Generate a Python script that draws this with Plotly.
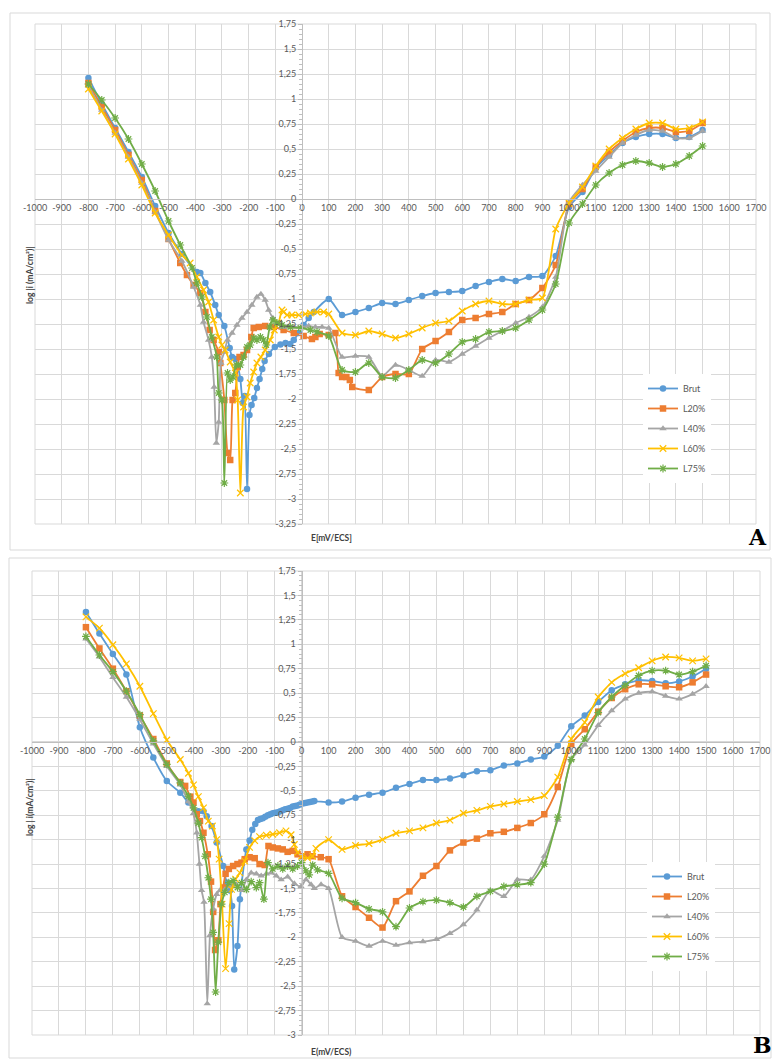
import plotly.graph_objects as go

W, H = 774, 1059

# ---------------- Panel A ----------------
A_brut_E = [-800, -750, -700, -650, -600, -550, -500, -450, -394, -381, -362, -344, -325, -312, -291, -271, -262,
            -250, -240, -231, -222, -215, -206, -197, -189, -179, -169, -159, -149, -140, -124, -102, -81, -62, -44,
            -31, -12, 6, 25, 44, 100, 150, 200, 250, 300, 350, 400, 450, 500, 550, 600, 650, 700, 750, 800, 850,
            900, 950, 1000, 1050, 1100, 1150, 1200, 1250, 1300, 1350, 1400, 1450, 1500]
A_brut_logi = [1.21, 0.95, 0.71, 0.47, 0.22, -0.07, -0.34, -0.55, -0.73, -0.74, -0.84, -0.93, -1.06, -1.16, -1.27,
               -1.49, -1.58, -1.60, -1.68, -1.80, -2.04, -1.97, -2.90, -2.16, -2.06, -1.99, -1.89, -1.80, -1.70, -1.62,
               -1.55, -1.48, -1.455, -1.44, -1.45, -1.41, -1.34, -1.26, -1.19, -1.13, -1.00, -1.16, -1.13, -1.09,
               -1.04, -1.05, -1.01, -0.97, -0.94, -0.93, -0.92, -0.87, -0.83, -0.80, -0.82, -0.78, -0.77, -0.57,
               -0.08, 0.07, 0.31, 0.44, 0.56, 0.62, 0.65, 0.65, 0.61, 0.62, 0.69]

A_l20_E = [-800, -750, -700, -650, -600, -550, -500, -456, -431, -406, -381, -362, -346, -331, -312, -306, -291, -279,
           -269, -260, -250, -241, -234, -219, -206, -190, -181, -162, -138, -106, -69, -31, 6, 37, 50, 66, 100, 125,
           137, 150, 166, 179, 188, 250, 300, 350, 400, 450, 500, 550, 600, 650, 700, 750, 800, 850, 900, 950, 1000,
           1050, 1100, 1150, 1200, 1250, 1300, 1350, 1400, 1450, 1500]
A_l20_logi = [1.16, 0.92, 0.69, 0.44, 0.19, -0.12, -0.40, -0.64, -0.76, -0.86, -0.94, -1.13, -1.31, -1.41, -1.53,
              -1.64, -2.01, -2.54, -2.61, -2.01, -1.94, -1.68, -1.58, -1.56, -1.51, -1.38, -1.29, -1.28, -1.27, -1.28,
              -1.31, -1.34, -1.37, -1.40, -1.38, -1.35, -1.36, -1.34, -1.74, -1.78, -1.78, -1.81, -1.88, -1.91, -1.78,
              -1.75, -1.75, -1.50, -1.42, -1.33, -1.21, -1.19, -1.15, -1.13, -1.05, -1.01, -0.89, -0.66, -0.05, 0.10,
              0.32, 0.47, 0.58, 0.67, 0.71, 0.71, 0.67, 0.68, 0.76]

A_l40_E = [-800, -750, -700, -650, -600, -550, -500, -450, -406, -381, -369, -350, -338, -329, -321, -312, -304, -291,
           -279, -262, -244, -225, -206, -188, -169, -154, -138, -125, -109, -94, -75, -56, -31, 0, 25, 50, 75, 100,
           150, 200, 250, 300, 350, 400, 450, 500, 550, 600, 650, 700, 750, 800, 850, 900, 950, 1000, 1050, 1100,
           1150, 1200, 1250, 1300, 1350, 1400, 1450, 1500]
A_l40_logi = [1.13, 0.89, 0.66, 0.42, 0.16, -0.13, -0.41, -0.62, -0.88, -1.06, -1.23, -1.41, -1.58, -1.88, -2.44,
              -2.23, -1.64, -1.53, -1.41, -1.34, -1.26, -1.19, -1.13, -1.06, -0.98, -0.95, -1.01, -1.11, -1.19, -1.24,
              -1.28, -1.28, -1.28, -1.28, -1.27, -1.28, -1.28, -1.29, -1.58, -1.57, -1.58, -1.77, -1.66, -1.71, -1.77,
              -1.61, -1.63, -1.55, -1.47, -1.39, -1.32, -1.24, -1.18, -1.08, -0.78, -0.03, 0.14, 0.28, 0.42, 0.56,
              0.64, 0.69, 0.68, 0.61, 0.61, 0.68]

A_l60_E = [-800, -750, -700, -650, -600, -550, -500, -450, -419, -394, -369, -350, -331, -312, -300, -288, -269, -250,
           -241, -231, -219, -206, -194, -181, -169, -154, -138, -119, -104, -88, -75, -69, -56, -38, -12, 12, 31, 56,
           81, 100, 150, 200, 250, 300, 350, 400, 450, 500, 550, 600, 650, 700, 750, 800, 850, 900, 950, 1000, 1050,
           1100, 1150, 1200, 1250, 1300, 1350, 1400, 1450, 1500]
A_l60_logi = [1.10, 0.88, 0.65, 0.40, 0.14, -0.14, -0.36, -0.56, -0.64, -0.78, -0.91, -1.03, -1.21, -1.38, -1.46,
              -1.51, -1.63, -1.74, -2.01, -2.94, -2.08, -1.98, -1.84, -1.73, -1.64, -1.58, -1.51, -1.41, -1.31, -1.24,
              -1.11, -1.13, -1.16, -1.16, -1.16, -1.15, -1.14, -1.13, -1.13, -1.15, -1.34, -1.36, -1.32, -1.35, -1.39,
              -1.35, -1.29, -1.24, -1.22, -1.12, -1.05, -1.02, -1.05, -1.05, -1.01, -0.99, -0.30, -0.04, 0.12, 0.33,
              0.50, 0.61, 0.70, 0.76, 0.76, 0.70, 0.71, 0.77]

A_l75_E = [-800, -750, -700, -650, -600, -550, -500, -456, -412, -394, -375, -356, -338, -319, -312, -300, -291, -279,
           -269, -259, -246, -231, -219, -206, -194, -181, -169, -156, -144, -134, -121, -109, -94, -75, -44, -6, 31,
           56, 100, 150, 200, 250, 300, 350, 400, 450, 500, 550, 600, 650, 700, 750, 800, 850, 900, 950, 1000, 1050,
           1100, 1150, 1200, 1250, 1300, 1350, 1400, 1450, 1500]
A_l75_logi = [1.15, 0.99, 0.81, 0.60, 0.35, 0.08, -0.22, -0.46, -0.69, -0.84, -0.98, -1.18, -1.38, -1.58, -1.94,
              -2.01, -2.84, -1.74, -1.81, -1.78, -1.66, -1.66, -1.58, -1.48, -1.46, -1.39, -1.41, -1.38, -1.41, -1.46,
              -1.28, -1.21, -1.24, -1.26, -1.28, -1.29, -1.31, -1.33, -1.37, -1.71, -1.73, -1.64, -1.78, -1.79, -1.71,
              -1.61, -1.64, -1.55, -1.43, -1.40, -1.33, -1.32, -1.29, -1.21, -1.11, -0.85, -0.24, -0.05, 0.14, 0.26,
              0.34, 0.38, 0.36, 0.32, 0.35, 0.43, 0.53]

# ---------------- Panel B ----------------
B_brut_E = [-800, -750, -700, -650, -600, -550, -500, -450, -420, -383, -364, -352, -334, -315, -291, -278, -266, -258,
            -250, -238, -229, -205, -193, -183, -172, -162, -153, -144, -135, -125, -116, -107, -98, -88, -79, -70,
            -61, -52, -43, -33, -24, -15, -6, 4, 13, 22, 31, 40, 47, 100, 150, 200, 250, 300, 350, 400, 450, 500, 550,
            600, 650, 700, 750, 800, 850, 900, 950, 1000, 1050, 1100, 1150, 1200, 1250, 1300, 1350, 1400, 1450, 1500]
B_brut_logi = [1.33, 1.11, 0.90, 0.69, 0.15, -0.16, -0.40, -0.52, -0.62, -0.71, -0.71, -0.76, -0.86, -1.03, -1.27,
               -1.44, -1.52, -1.68, -2.33, -2.09, -1.61, -1.10, -1.01, -0.90, -0.84, -0.80, -0.79, -0.78, -0.765,
               -0.75, -0.74, -0.73, -0.725, -0.72, -0.71, -0.70, -0.69, -0.685, -0.675, -0.66, -0.655, -0.65, -0.64,
               -0.63, -0.625, -0.62, -0.615, -0.61, -0.605, -0.62, -0.61, -0.57, -0.54, -0.52, -0.47, -0.43, -0.39,
               -0.39, -0.375, -0.34, -0.30, -0.29, -0.24, -0.22, -0.18, -0.15, -0.04, 0.16, 0.27, 0.41, 0.53, 0.59,
               0.63, 0.625, 0.60, 0.62, 0.67, 0.75]

B_l20_E = [-800, -750, -700, -650, -600, -550, -500, -450, -432, -413, -401, -389, -377, -364, -348, -336, -328, -321,
           -309, -301, -291, -282, -270, -254, -238, -223, -211, -193, -174, -156, -137, -123, -107, -88, -70, -52,
           -33, -15, 4, 22, 40, 71, 100, 150, 200, 250, 300, 350, 400, 450, 500, 550, 600, 650, 700, 750, 800, 850,
           900, 950, 1000, 1050, 1100, 1150, 1200, 1250, 1300, 1350, 1400, 1450, 1500]
B_l20_logi = [1.175, 0.957, 0.75, 0.52, 0.27, 0.03, -0.22, -0.41, -0.45, -0.56, -0.62, -0.74, -0.81, -0.93, -1.15,
              -1.43, -1.74, -2.13, -2.03, -1.66, -1.49, -1.35, -1.30, -1.27, -1.25, -1.235, -1.20, -1.18, -1.19,
              -1.25, -1.26, -1.065, -1.08, -1.09, -1.10, -1.125, -1.115, -1.15, -1.17, -1.15, -1.17, -1.18, -1.20,
              -1.58, -1.69, -1.80, -1.90, -1.63, -1.53, -1.37, -1.27, -1.11, -1.03, -0.99, -0.935, -0.92, -0.88,
              -0.83, -0.74, -0.46, -0.02, 0.13, 0.31, 0.45, 0.54, 0.59, 0.59, 0.57, 0.56, 0.61, 0.69]

B_l40_E = [-800, -750, -700, -650, -600, -550, -500, -450, -420, -401, -389, -379, -371, -362, -350, -340, -328, -315,
           -303, -285, -260, -242, -223, -205, -187, -168, -150, -131, -113, -94, -76, -52, -27, -2, 16, 35, 47, 72,
           100, 150, 200, 250, 300, 350, 400, 450, 500, 550, 600, 650, 700, 750, 800, 850, 900, 950, 1000, 1050,
           1100, 1150, 1200, 1250, 1300, 1350, 1400, 1450, 1500]
B_l40_logi = [1.056, 0.87, 0.66, 0.46, 0.23, -0.02, -0.25, -0.44, -0.61, -0.73, -0.93, -1.25, -1.52, -1.64, -2.68,
              -1.98, -1.71, -1.56, -1.52, -1.51, -1.47, -1.46, -1.52, -1.41, -1.34, -1.35, -1.37, -1.35, -1.34, -1.37,
              -1.41, -1.38, -1.45, -1.48, -1.41, -1.46, -1.50, -1.46, -1.50, -2.00, -2.04, -2.09, -2.04, -2.08,
              -2.055, -2.044, -2.02, -1.96, -1.87, -1.72, -1.52, -1.58, -1.41, -1.41, -1.17, -0.80, -0.18, -0.03,
              0.17, 0.32, 0.44, 0.50, 0.515, 0.47, 0.44, 0.49, 0.57]

B_l60_E = [-800, -750, -700, -650, -600, -550, -500, -450, -420, -401, -383, -364, -346, -331, -315, -306, -295, -282,
           -269, -260, -245, -229, -211, -193, -174, -156, -131, -107, -82, -58, -39, -27, -15, 0, 22, 41, 53, 100,
           150, 200, 250, 300, 350, 400, 450, 500, 550, 600, 650, 700, 750, 800, 850, 900, 950, 1000, 1050, 1100,
           1150, 1200, 1250, 1300, 1350, 1400, 1450, 1500]
B_l60_logi = [1.28, 1.165, 0.995, 0.80, 0.57, 0.29, 0.02, -0.18, -0.32, -0.44, -0.56, -0.675, -0.81, -0.86, -1.00,
              -1.20, -1.66, -2.32, -1.86, -1.51, -1.405, -1.34, -1.22, -1.08, -1.01, -0.97, -0.955, -0.945, -0.93,
              -0.91, -0.95, -1.05, -1.13, -1.17, -1.19, -1.17, -1.09, -1.00, -1.10, -1.06, -1.04, -1.00, -0.935,
              -0.91, -0.88, -0.83, -0.80, -0.73, -0.70, -0.66, -0.635, -0.61, -0.59, -0.55, -0.36, 0.03, 0.20, 0.46,
              0.61, 0.70, 0.76, 0.83, 0.87, 0.86, 0.83, 0.85]

B_l75_E = [-800, -750, -700, -650, -600, -550, -500, -450, -420, -401, -383, -371, -358, -346, -336, -328, -319, -309,
           -297, -285, -270, -254, -238, -223, -205, -187, -168, -156, -140, -125, -107, -88, -70, -52, -33, -15, 0,
           16, 28, 41, 59, 100, 150, 200, 250, 300, 350, 400, 450, 500, 550, 600, 650, 700, 750, 800, 850, 900, 950,
           1000, 1050, 1100, 1150, 1200, 1250, 1300, 1350, 1400, 1450, 1500]
B_l75_logi = [1.08, 0.89, 0.72, 0.52, 0.28, 0.01, -0.23, -0.42, -0.556, -0.675, -0.83, -0.98, -1.17, -1.39, -1.61,
              -1.95, -2.56, -2.05, -1.66, -1.54, -1.44, -1.42, -1.49, -1.44, -1.51, -1.43, -1.49, -1.44, -1.61,
              -1.235, -1.30, -1.27, -1.30, -1.27, -1.30, -1.27, -1.235, -1.32, -1.36, -1.26, -1.31, -1.345, -1.60,
              -1.645, -1.71, -1.74, -1.89, -1.70, -1.635, -1.62, -1.645, -1.69, -1.58, -1.53, -1.48, -1.46, -1.44,
              -1.25, -0.77, -0.18, 0.03, 0.30, 0.46, 0.58, 0.68, 0.73, 0.73, 0.69, 0.72, 0.78]

series_names = ["Brut", "L20%", "L40%", "L60%", "L75%"]
series_colors = ["#5B9BD5", "#ED7D31", "#A5A5A5", "#FFC000", "#70AD47"]
series_symbols = ["circle", "square", "triangle-up", "x-thin", "asterisk"]

# axis ticks
E_ticks = list(range(-1000, 1701, 100))
E_tick_text = [str(v) for v in E_ticks]
A_logi_ticks = [-3.25 + 0.25 * k for k in range(21)]
B_logi_ticks = [-3.0 + 0.25 * k for k in range(20)]


def comma(v):
    s = ("%.2f" % v).rstrip("0").rstrip(".")
    if s == "-0":
        s = "0"
    return s.replace(".", ",")


A_logi_text = [comma(v) for v in A_logi_ticks]
B_logi_text = [comma(v) for v in B_logi_ticks]

GRID = "#d9d9d9"
AXIS = "#bfbfbf"
TXT = "#595959"
TITLE = "#404040"
FONT = "Lato, 'Open Sans', sans-serif"


def px_x(p):
    return p / W


def px_y(p):
    return 1 - p / H


panels = [
    dict(xa="x", ya="y", leg="legend",
         dom_x=[px_x(35), px_x(756)], dom_y=[px_y(524), px_y(24)],
         yr=[-3.25, 1.75], yt=A_logi_ticks, ytt=A_logi_text,
         data=[(A_brut_E, A_brut_logi), (A_l20_E, A_l20_logi), (A_l40_E, A_l40_logi),
               (A_l60_E, A_l60_logi), (A_l75_E, A_l75_logi)]),
    dict(xa="x2", ya="y2", leg="legend2",
         dom_x=[px_x(32), px_x(760)], dom_y=[px_y(1035), px_y(571)],
         yr=[-3.0, 1.75], yt=B_logi_ticks, ytt=B_logi_text,
         data=[(B_brut_E, B_brut_logi), (B_l20_E, B_l20_logi), (B_l40_E, B_l40_logi),
               (B_l60_E, B_l60_logi), (B_l75_E, B_l75_logi)]),
]

fig = go.Figure()
layout = dict(width=W, height=H, margin=dict(l=0, r=0, t=0, b=0, pad=0, autoexpand=False),
              paper_bgcolor="white", plot_bgcolor="white",
              font=dict(family=FONT, size=9, color=TXT), shapes=[], annotations=[])

xr = [-1000, 1700]
for pi, p in enumerate(panels):
    for (E, logi), name, col, sym in zip(p["data"], series_names, series_colors, series_symbols):
        thin = sym in ("x-thin", "asterisk")
        fig.add_trace(go.Scatter(
            x=E, y=logi, name=name, xaxis=p["xa"], yaxis=p["ya"], legend=p["leg"],
            legendgroup=p["leg"] + name, mode="lines+markers",
            line=dict(color=col, width=1.8, shape="spline", smoothing=0.6),
            marker=dict(symbol=sym, size=6.5, color=col,
                        line=dict(color=col, width=1.2 if thin else 0)),
        ))
    dx, dy = p["dom_x"], p["dom_y"]
    x_zero = dx[0] + (0 - xr[0]) / (xr[1] - xr[0]) * (dx[1] - dx[0])
    y_zero = dy[0] + (0 - p["yr"][0]) / (p["yr"][1] - p["yr"][0]) * (dy[1] - dy[0])
    xkey = "xaxis" if pi == 0 else "xaxis2"
    ykey = "yaxis" if pi == 0 else "yaxis2"
    layout[xkey] = dict(domain=dx, range=xr, anchor="free", position=y_zero, automargin=False,
                        tickmode="array", tickvals=E_ticks, ticktext=E_tick_text,
                        showgrid=True, gridcolor=GRID, gridwidth=1, zeroline=False,
                        showline=True, linecolor=AXIS, linewidth=1, ticks="",
                        tickfont=dict(size=9, color=TXT), fixedrange=True)
    layout[ykey] = dict(domain=dy, range=p["yr"], anchor="free", position=x_zero, automargin=False,
                        tickmode="array", tickvals=p["yt"], ticktext=p["ytt"],
                        showgrid=True, gridcolor=GRID, gridwidth=1, zeroline=False,
                        showline=True, linecolor=AXIS, linewidth=1,
                        ticks="outside", ticklen=4, tickcolor=AXIS,
                        minor=dict(ticks="outside", ticklen=3, tickcolor=AXIS, dtick=0.05, tick0=0, showgrid=False),
                        tickfont=dict(size=9, color=TXT), fixedrange=True)
    # plot-area border
    layout["shapes"].append(dict(type="rect", xref=p["xa"] + " domain", yref=p["ya"] + " domain",
                                 x0=0, x1=1, y0=0, y1=1, line=dict(color=GRID, width=1), layer="below"))

# chart-area frames
for (x0, y0, x1, y1) in [(10, 13, 770, 550), (9, 558, 771, 1058)]:
    layout["shapes"].append(dict(type="rect", xref="paper", yref="paper",
                                 x0=px_x(x0), x1=px_x(x1), y0=px_y(y1), y1=px_y(y0),
                                 line=dict(color=GRID, width=1)))

legend_style = dict(xanchor="left", yanchor="top", bgcolor="white", borderwidth=0,
                    font=dict(size=9, color=TXT, family=FONT), tracegroupgap=1, itemclick=False)
layout["legend"] = dict(x=px_x(643), y=px_y(374), **legend_style)
layout["legend2"] = dict(x=px_x(647), y=px_y(862), **legend_style)

# axis titles and panel letters
ann = layout["annotations"]
ann.append(dict(text="<b>E[mV/ECS]</b>", x=px_x(331), y=px_y(538), xref="paper", yref="paper", showarrow=False,
                font=dict(size=8.5, color=TITLE, family=FONT), xanchor="center", yanchor="middle"))
ann.append(dict(text="<b>E(mV/ECS)</b>", x=px_x(331), y=px_y(1052), xref="paper", yref="paper", showarrow=False,
                font=dict(size=8.5, color=TITLE, family=FONT), xanchor="center", yanchor="middle"))
ann.append(dict(text="<b>log |i (mA/cm²)|</b>", x=px_x(30), y=px_y(276), xref="paper", yref="paper",
                showarrow=False, textangle=-90, font=dict(size=8.5, color=TITLE, family=FONT),
                xanchor="center", yanchor="middle"))
ann.append(dict(text="<b>log | i(mA/cm²)|</b>", x=px_x(30), y=px_y(808), xref="paper", yref="paper",
                showarrow=False, textangle=-90, font=dict(size=8.5, color=TITLE, family=FONT),
                xanchor="center", yanchor="middle"))
ann.append(dict(text="<b>A</b>", x=px_x(757), y=px_y(537), xref="paper", yref="paper", showarrow=False,
                font=dict(size=22, color="black", family="DejaVu Serif"), xanchor="center", yanchor="middle"))
ann.append(dict(text="<b>B</b>", x=px_x(762), y=px_y(1045), xref="paper", yref="paper", showarrow=False,
                font=dict(size=22, color="black", family="DejaVu Serif"), xanchor="center", yanchor="middle"))

fig.update_layout(**layout)
fig.write_html("out.html")
